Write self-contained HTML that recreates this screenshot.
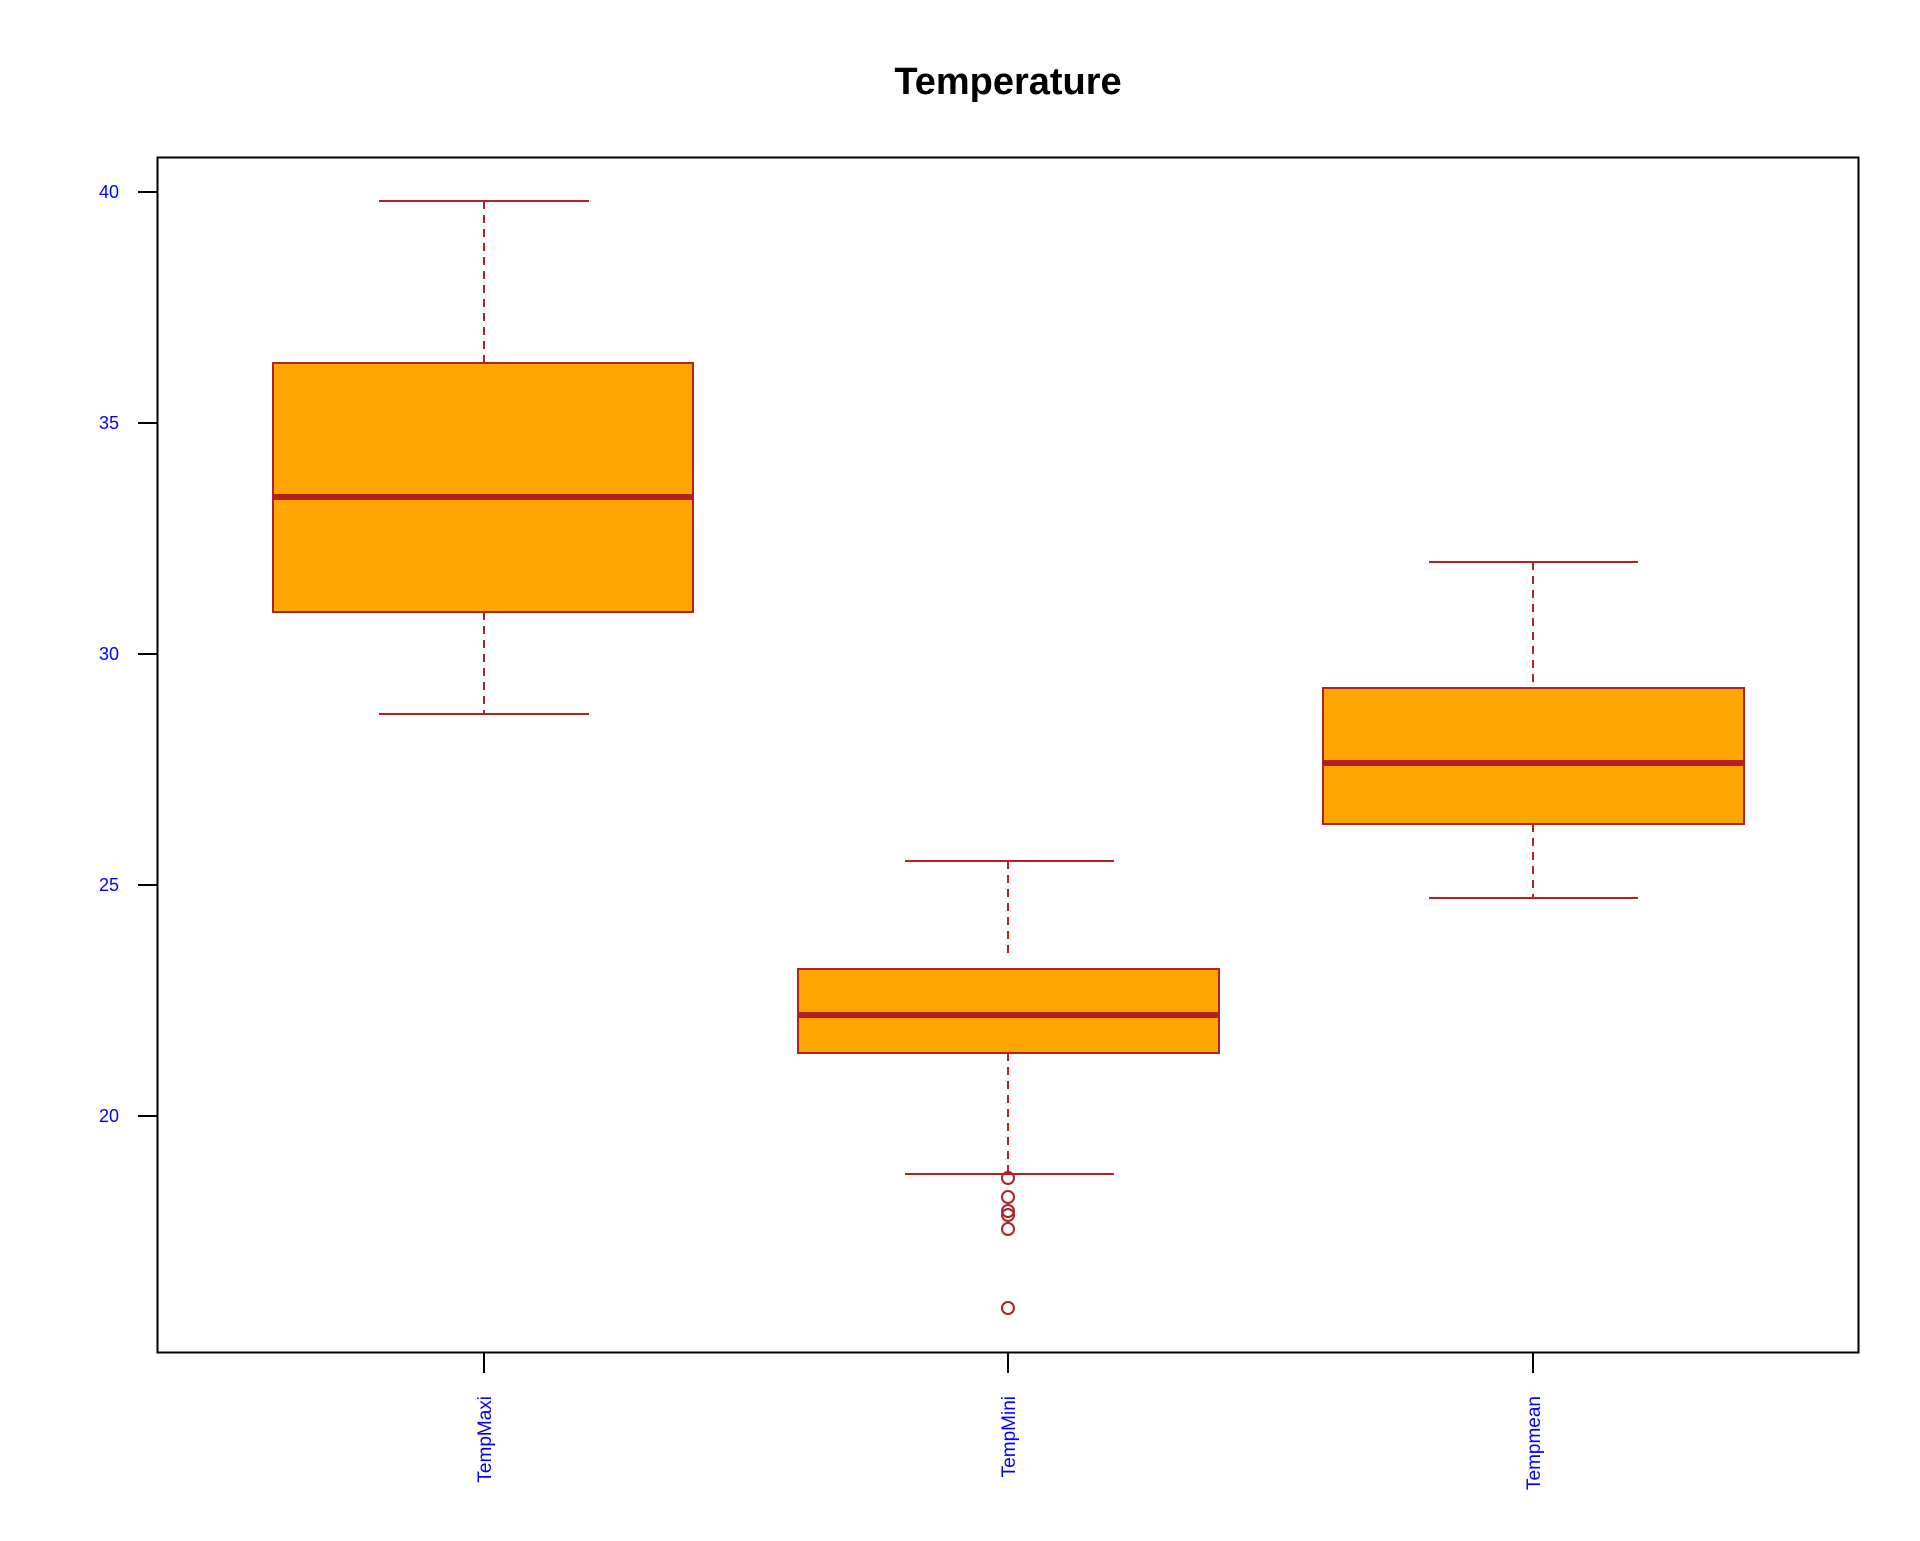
<!DOCTYPE html>
<html><head><style>html,body{margin:0;padding:0;background:#fff}</style></head>
<body>
<svg width="1920" height="1536" xmlns="http://www.w3.org/2000/svg" font-family="Liberation Sans, Arial, sans-serif">
<rect width="1920" height="1536" fill="#fff"/>
<text x="1008" y="94" font-size="38" font-weight="bold" text-anchor="middle">Temperature</text>
<rect x="157.5" y="157.5" width="1701" height="1195" fill="none" stroke="#000" stroke-width="2"/>
<g stroke="#000" stroke-width="2">
<line x1="138" y1="192" x2="157" y2="192"/>
<line x1="138" y1="423" x2="157" y2="423"/>
<line x1="138" y1="654" x2="157" y2="654"/>
<line x1="138" y1="885" x2="157" y2="885"/>
<line x1="138" y1="1116" x2="157" y2="1116"/>
<line x1="484" y1="1353" x2="484" y2="1373"/>
<line x1="1008" y1="1353" x2="1008" y2="1373"/>
<line x1="1533" y1="1353" x2="1533" y2="1373"/>
</g>
<g fill="#0000ff" font-size="18" text-anchor="end">
<text x="119" y="198">40</text>
<text x="119" y="429">35</text>
<text x="119" y="660">30</text>
<text x="119" y="891">25</text>
<text x="119" y="1122">20</text>
</g>
<g fill="#0000ff" font-size="19" text-anchor="end">
<text transform="translate(491,1396) rotate(-90)">TempMaxi</text>
<text transform="translate(1015,1396) rotate(-90)">TempMini</text>
<text transform="translate(1540,1396) rotate(-90)">Tempmean</text>
</g>
<g stroke="#b22222" stroke-width="2" fill="none">
<line x1="484" y1="201" x2="484" y2="363" stroke-dasharray="8,6"/>
<line x1="484" y1="612" x2="484" y2="714" stroke-dasharray="8,6"/>
<line x1="379" y1="201" x2="589" y2="201"/>
<line x1="379" y1="714" x2="589" y2="714"/>
<rect x="273" y="363" width="420" height="249" fill="#ffa500"/>
<line x1="273" y1="497" x2="693" y2="497" stroke-width="6"/>
<line x1="1008" y1="861" x2="1008" y2="959" stroke-dasharray="8,6"/>
<line x1="1008" y1="1053" x2="1008" y2="1174" stroke-dasharray="8,6"/>
<line x1="905" y1="861" x2="1114" y2="861"/>
<line x1="905" y1="1174" x2="1114" y2="1174"/>
<rect x="798" y="969" width="421" height="84" fill="#ffa500"/>
<line x1="798" y1="1015" x2="1219" y2="1015" stroke-width="6"/>
<circle cx="1008" cy="1178" r="6"/>
<circle cx="1008" cy="1197" r="6"/>
<circle cx="1008" cy="1211" r="6"/>
<circle cx="1008" cy="1215" r="6"/>
<circle cx="1008" cy="1229" r="6"/>
<circle cx="1008" cy="1308" r="6"/>
<line x1="1533" y1="562" x2="1533" y2="688" stroke-dasharray="8,6"/>
<line x1="1533" y1="824" x2="1533" y2="898" stroke-dasharray="8,6"/>
<line x1="1429" y1="562" x2="1638" y2="562"/>
<line x1="1429" y1="898" x2="1638" y2="898"/>
<rect x="1323" y="688" width="421" height="136" fill="#ffa500"/>
<line x1="1323" y1="763" x2="1744" y2="763" stroke-width="6"/>
</g>
</svg>
</body></html>
